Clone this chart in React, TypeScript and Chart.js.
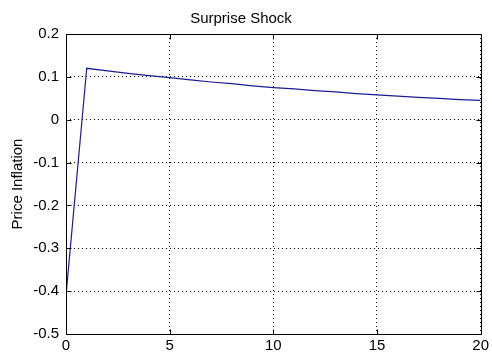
import React, { useEffect, useRef } from "react";
import { Chart, registerables } from "chart.js";

Chart.register(...registerables);

const periods = [0, 1, 2, 3, 4, 5, 6, 7, 8, 9, 10, 11, 12, 13, 14, 15, 16, 17, 18, 19, 20];
const inflation = [
  -0.41, 0.12, 0.114, 0.108, 0.103, 0.098, 0.093, 0.088, 0.084, 0.079, 0.075,
  0.072, 0.068, 0.065, 0.061, 0.058, 0.055, 0.052, 0.05, 0.047, 0.045,
];
const xTicks = [0, 5, 10, 15, 20];
const yTicks = [-0.5, -0.4, -0.3, -0.2, -0.1, 0, 0.1, 0.2];
const titleText = "Surprise Shock";
const yLabel = "Price Inflation";

const FONT = "'Liberation Sans', Arial, sans-serif";

const boxPlugin = {
  id: "matlabBox",
  afterDatasetsDraw(chart: any) {
    const { ctx, chartArea: a, scales } = chart;
    ctx.save();
    ctx.strokeStyle = "#000";
    ctx.lineWidth = 1;
    ctx.setLineDash([]);
    const L = Math.round(a.left) + 0.5;
    const R = Math.round(a.right) + 0.5;
    const T = Math.round(a.top) + 0.5;
    const B = Math.round(a.bottom) + 0.5;
    ctx.strokeRect(L, T, R - L, B - T);
    const tl = 5;
    ctx.beginPath();
    for (const v of xTicks) {
      const x = Math.round(scales.x.getPixelForValue(v)) + 0.5;
      ctx.moveTo(x, B);
      ctx.lineTo(x, B - tl);
      ctx.moveTo(x, T);
      ctx.lineTo(x, T + tl);
    }
    for (const v of yTicks) {
      const y = Math.round(scales.y.getPixelForValue(v)) + 0.5;
      ctx.moveTo(L, y);
      ctx.lineTo(L + tl, y);
      ctx.moveTo(R, y);
      ctx.lineTo(R - tl, y);
    }
    ctx.stroke();
    ctx.restore();
  },
};

export default function App() {
  const ref = useRef<HTMLCanvasElement>(null);
  useEffect(() => {
    if (!ref.current) return;
    const chart = new Chart(ref.current, {
      type: "line",
      data: {
        labels: periods,
        datasets: [
          {
            data: periods.map((p, i) => ({ x: p, y: inflation[i] })),
            borderColor: "#1c1c96",
            borderWidth: 1.2,
            pointRadius: 0,
            tension: 0,
            fill: false,
          },
        ],
      },
      options: {
        animation: false,
        responsive: false,
        layout: { padding: { left: 0, right: 10, top: 0, bottom: 0 } },
        plugins: {
          legend: { display: false },
          tooltip: { enabled: false },
          title: {
            display: true,
            text: titleText,
            color: "#000",
            font: { family: FONT, size: 15, weight: "normal" },
            padding: { top: 10, bottom: 6 },
          },
        },
        scales: {
          x: {
            type: "linear",
            min: 0,
            max: 20,
            afterFit: (s: any) => {
              s.height = 28;
            },
            afterBuildTicks: (s: any) => {
              s.ticks = xTicks.map((v) => ({ value: v }));
            },
            ticks: {
              color: "#000",
              font: { family: FONT, size: 15 },
              padding: 3,
              maxRotation: 0,
              autoSkip: false,
            },
            grid: {
              color: "#000",
              lineWidth: 1,
              drawTicks: false,
              tickLength: 0,
            },
            border: { display: false, dash: [1, 3] },
          },
          y: {
            type: "linear",
            min: -0.5,
            max: 0.2,
            afterFit: (s: any) => {
              s.width = 66;
            },
            afterBuildTicks: (s: any) => {
              s.ticks = yTicks.map((v) => ({ value: v }));
            },
            ticks: {
              color: "#000",
              font: { family: FONT, size: 15 },
              padding: 7,
              autoSkip: false,
              callback: (v: any) => {
                const n = Math.round(Number(v) * 10) / 10;
                return n === 0 ? "0" : n.toString();
              },
            },
            title: {
              display: true,
              text: yLabel,
              color: "#000",
              font: { family: FONT, size: 15 },
              padding: { top: 9, bottom: 0 },
            },
            grid: {
              color: "#000",
              lineWidth: 1,
              drawTicks: false,
              tickLength: 0,
            },
            border: { display: false, dash: [1, 3] },
          },
        },
      },
      plugins: [boxPlugin],
    } as any);
    return () => chart.destroy();
  }, []);
  return (
    <div style={{ position: "fixed", left: 0, top: 0, width: 492, height: 362, background: "#fff" }}>
      <canvas ref={ref} width={492} height={362} style={{ width: 492, height: 362 }} />
    </div>
  );
}
